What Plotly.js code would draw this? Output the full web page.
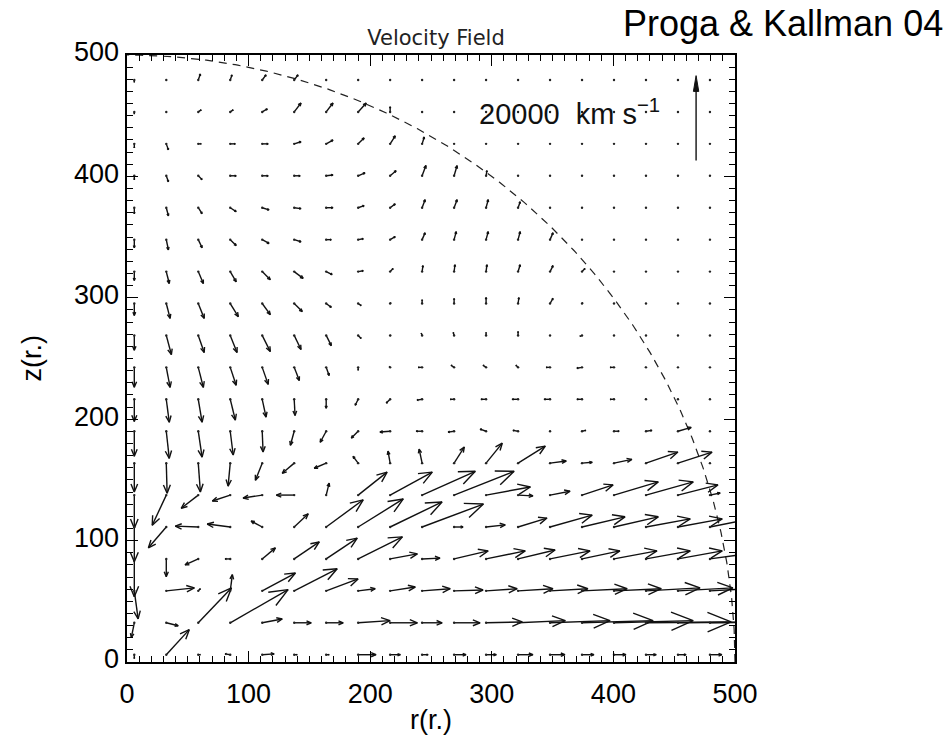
<!DOCTYPE html>
<html><head><meta charset="utf-8">
<script src="https://cdn.plot.ly/plotly-3.0.1.min.js"></script>
<style>html,body{margin:0;padding:0;background:#fff}</style>
</head><body>
<div id="chart" style="width:949px;height:748px"></div>
<script>
// grid positions (r, z) in units of r*
const rGrid = [6.0, 32.3, 58.6, 84.9, 111.2, 137.5, 163.8, 190.1, 216.4, 242.7, 269.0, 295.3, 321.6, 347.9, 374.2, 400.5, 426.8, 453.1, 479.4];
const zGrid = [6.0, 32.3, 58.6, 84.9, 111.2, 137.5, 163.8, 190.1, 216.4, 242.7, 269.0, 295.3, 321.6, 347.9, 374.2, 400.5, 426.8, 453.1, 479.4];

// velocity components, 10^3 km/s; row index = z grid index (bottom to top), column = r grid index
const vr = [
 [0,5.4,0.5,-1.2,2.8,0.7,0.7,4.2,2.4,1.4,2.8,2.4,3.5,3.5,2.8,2.8,2.4,1.9,2.8],
 [-0.7,2.8,7.8,13.6,4.7,4.0,4.0,7.5,6.4,4.7,6.1,8.5,11.1,14.1,16.7,18.6,20.0,20.7,20.7],
 [0.9,6.6,0.5,0.5,7.8,10.1,7.5,4.0,5.9,6.6,6.8,7.3,8.2,8.9,10.6,11.1,12.7,12.9,12.9],
 [0,0,-3.1,-1.2,3.1,5.9,7.3,10.4,6.4,4.2,8.0,9.2,8.7,9.4,8.9,10.1,10.4,10.4,10.4],
 [0,-4.2,-5.4,-5.4,-2.6,3.3,8.7,10.6,12.2,14.4,2.1,4.5,6.8,9.9,10.1,10.4,10.4,10.4,9.4],
 [0,-3.3,-4.0,-4.2,-4.5,-4.2,0.7,6.8,9.9,12.5,14.1,10.4,3.5,4.7,7.3,10.4,11.1,9.4,2.4],
 [0,0.2,0.5,-0.5,-1.6,-2.8,-2.8,-1.2,-0.5,-0.7,2.4,3.8,6.4,3.8,2.4,4.2,7.5,8.0,0],
 [0,0.7,0.9,0.7,0.2,-0.9,-1.4,-1.6,-2.4,-1.4,-1.4,-1.4,-1.2,0,0.9,1.2,1.4,3.1,0],
 [0,0.7,0.9,1.2,0.9,0.2,0,-0.7,-0.9,-1.2,-0.9,-1.2,-1.4,-1.4,-1.2,-0.9,-0.2,0,0],
 [0,0.9,1.2,1.4,1.4,1.2,0.7,0,-0.2,-0.9,-0.7,-0.7,-0.5,-0.9,-1.2,-0.9,-0.2,0,0],
 [0,1.2,1.4,1.6,1.9,1.6,1.2,0.7,0.2,-0.2,-0.2,0,0,0,-0.5,0,0,0,0],
 [0,0.9,1.4,1.9,1.9,1.9,1.2,0.7,0.2,0,0,0,0.2,0.7,0.2,0,0,0,0],
 [0,0.7,1.2,1.4,1.9,2.1,1.4,1.2,0.7,0.2,0.2,0.2,0.5,0.7,0.7,0,0,0,0],
 [0,0.5,0.9,1.4,1.6,1.6,1.2,1.2,1.2,0.7,0.5,0.5,0.5,0.7,0,0,0,0,0],
 [0,0.5,0.9,1.4,1.6,1.6,1.6,1.4,1.2,0.7,0.7,0.5,0.5,0,0,0,0,0,0],
 [0,0.5,0.9,1.4,1.4,1.4,1.6,1.6,1.4,0.9,0.7,0.2,0,0,0,0,0,0,0],
 [0,0.5,0.7,1.2,1.4,1.6,1.6,1.4,1.2,0.5,0,0,0,0,0,0,0,0,0],
 [0,0,0.7,0.7,1.2,1.6,1.6,1.9,0,0,0,0,0,0,0,0,0,0,0],
 [0,0,0.5,0.4,0.9,0.9,0,0,0,0,0,0,0,0,0,0,0,0,0]
];
const vz = [
 [-0.9,5.9,0,0.2,0.2,0,0,0,0,0,0,0,0,0,0,0,0,0,0],
 [-3.5,-0.7,8.2,7.8,0.9,0,0,0.5,0,0,0,0.2,0.5,0.5,0.5,0.5,0.2,0.2,0.2],
 [-6.6,0.7,0.5,3.8,4.2,5.2,2.8,0.5,0.9,0.5,0.2,0.5,0.5,0.5,0.5,0.5,0.7,0.7,0.7],
 [-8.9,-4.2,-1.4,0,2.6,4.0,4.9,5.2,1.2,0.2,1.9,1.9,2.1,1.9,1.9,1.9,1.9,1.9,1.4],
 [-8.2,-4.9,0.2,0.7,1.4,3.1,6.4,6.6,5.9,5.4,0,0.5,2.1,2.8,2.4,2.4,1.9,1.9,1.9],
 [-7.8,-7.1,-3.1,-1.4,-0.7,0,2.8,5.4,5.4,5.6,5.6,1.9,-0.2,0.9,2.4,3.1,3.1,2.4,0.5],
 [-6.8,-7.1,-6.8,-5.4,-4.0,-2.4,-1.2,1.6,2.8,3.3,3.8,4.7,4.0,0.5,0.2,0.9,2.6,2.6,0],
 [-5.9,-6.4,-6.1,-5.6,-4.9,-3.3,-2.6,-1.6,-0.2,0,-0.2,0.5,0.2,0,0.2,0,0.2,0.9,0],
 [-5.2,-5.4,-5.4,-4.9,-4.2,-3.8,-2.1,-1.4,-0.9,-0.2,0,0,0,0,0,0,0,0,0],
 [-4.7,-4.7,-4.7,-4.2,-4.0,-3.1,-1.9,-0.7,0.2,0,0.5,0.5,0.5,0,-0.2,0,0,0,0],
 [-3.5,-4.5,-4.0,-4.0,-3.8,-3.3,-2.4,-0.7,0,0.5,0.7,0.7,0.9,0,-0.2,0,0,0,0],
 [-2.8,-3.5,-3.5,-3.1,-2.6,-1.9,-0.9,-0.5,0.2,0.9,1.2,1.4,1.4,1.2,0.2,0,0,0,0],
 [-2.1,-2.8,-2.8,-2.4,-1.9,-1.6,-0.7,0.2,0.7,1.4,1.6,1.6,1.6,1.4,0.7,0,0,0,0],
 [-1.9,-2.4,-1.9,-1.4,-0.9,-0.5,0,0.2,0.7,1.6,1.9,1.9,1.9,1.6,0,0,0,0,0],
 [-1.4,-1.9,-1.4,-0.9,-0.5,-0.2,0,0.5,0.9,1.9,1.9,1.9,1.4,0,0,0,0,0,0],
 [-0.9,-1.4,-0.9,0,0,0,0.2,0.7,1.2,2.4,2.4,1.2,0,0,0,0,0,0,0],
 [-0.9,-1.4,0,0,0,0.5,0.9,1.4,1.9,1.6,0,0,0,0,0,0,0,0,0],
 [-0.5,0,0.5,0.5,0.7,2.1,2.1,2.1,1.2,0,0,0,0,0,0,0,0,0,0],
 [-0.5,0,1.4,1.2,1.2,1.2,0,0,0,0,0,0,0,0,0,0,0,0,0]
];

const refSpeed = 20;          // 10^3 km/s  (20000 km/s reference arrow)
const refPos = [468, 413];    // tail of reference arrow (r, z)
const refLabel = '20000  km s<sup>\u22121</sup>';
const domainRadius = 500;
const xTicks = [0, 100, 200, 300, 400, 500];
const yTicks = [0, 100, 200, 300, 400, 500];

// ---------- build marks ----------
const S = 3.5; // data units per 10^3 km/s
const HEAD = 0.3, ANG = 22.5 * Math.PI / 180;
const ct = HEAD * Math.cos(ANG), st = HEAD * Math.sin(ANG);
const ax = [], ay = [], dotX = [], dotY = [];
for (let j = 0; j < zGrid.length; j++) {
  for (let i = 0; i < rGrid.length; i++) {
    const x0 = rGrid[i], y0 = zGrid[j];
    dotX.push(x0); dotY.push(y0);
    const dx = vr[j][i] * S, dy = vz[j][i] * S;
    if (dx === 0 && dy === 0) continue;
    const x1 = x0 + dx, y1 = y0 + dy;
    ax.push(x0, x1, null, x1 - (ct * dx - st * dy), x1, x1 - (ct * dx + st * dy), null);
    ay.push(y0, y1, null, y1 - (ct * dy + st * dx), y1, y1 - (ct * dy - st * dx), null);
  }
}
const cx = [], cy = [];
for (let k = 0; k <= 360; k++) {
  const t = (Math.PI / 2) * k / 360;
  cx.push(domainRadius * Math.cos(t)); cy.push(domainRadius * Math.sin(t));
}
const refTip = refPos[1] + refSpeed * S;

const traces = [
  {x: cx, y: cy, mode: 'lines', line: {color: '#222', width: 1.2, dash: '8px,6px'}, hoverinfo: 'skip'},
  {x: ax, y: ay, mode: 'lines', line: {color: '#111', width: 1.4}, connectgaps: false, hoverinfo: 'skip'},
  {x: dotX, y: dotY, mode: 'markers', marker: {color: '#222', size: 2.4}, hoverinfo: 'skip', cliponaxis: true},
  {x: [refPos[0], refPos[0]], y: [refPos[1], refTip - 6], mode: 'lines', line: {color: '#111', width: 1.4}, hoverinfo: 'skip'},
  {x: [refPos[0] - 2.2, refPos[0], refPos[0] + 2.2, refPos[0] - 2.2], y: [refTip - 13, refTip, refTip - 13, refTip - 13],
   mode: 'lines', fill: 'toself', fillcolor: '#111', line: {color: '#111', width: 1}, hoverinfo: 'skip'}
];

const axisCommon = {
  range: [0, 500], showgrid: false, zeroline: false, showline: true, linecolor: '#000', linewidth: 1.6,
  mirror: 'ticks', ticks: 'inside', ticklen: 11, tickwidth: 1.3, tickcolor: '#000',
  minor: {dtick: 10, ticks: 'inside', ticklen: 6, tickwidth: 1, tickcolor: '#000'},
  tickfont: {family: 'Liberation Sans, Arial, sans-serif', size: 27, color: '#000'},
  fixedrange: true
};

const layout = {
  width: 949, height: 748,
  margin: {l: 127, r: 214, t: 55, b: 86},
  paper_bgcolor: '#fff', plot_bgcolor: '#fff',
  showlegend: false,
  title: {text: 'Velocity Field', x: 436 / 949, xanchor: 'center', y: 1 - 38 / 748, yanchor: 'middle',
          font: {family: 'DejaVu Sans, sans-serif', size: 21, color: '#222'}},
  xaxis: Object.assign({}, axisCommon, {tickvals: xTicks, ticktext: xTicks.map(String), ticklabelstandoff: 7}),
  yaxis: Object.assign({}, axisCommon, {tickvals: yTicks, ticktext: yTicks.map(String), ticklabelstandoff: 1, ticklabelshift: -3}),
  annotations: [
    {text: refLabel, xref: 'x', yref: 'y', x: 440, y: 453, xanchor: 'right', yanchor: 'middle', showarrow: false,
     font: {family: 'Liberation Sans, Arial, sans-serif', size: 29, color: '#111'}},
    {text: 'Proga & Kallman 04', xref: 'paper', yref: 'paper', x: (783 - 127) / 608, y: (662 - 24) / 607,
     xanchor: 'center', yanchor: 'middle', showarrow: false,
     font: {family: 'Liberation Sans, Arial, sans-serif', size: 36, color: '#000'}},
    {text: 'r(r.)', xref: 'paper', yref: 'paper', x: 0.5, y: (662 - 720) / 607, xanchor: 'center', yanchor: 'middle',
     showarrow: false, font: {family: 'Liberation Sans, Arial, sans-serif', size: 27, color: '#000'}},
    {text: 'z(r.)', xref: 'paper', yref: 'paper', x: (31 - 127) / 608, y: 0.5, xanchor: 'center', yanchor: 'middle',
     textangle: -90, showarrow: false, font: {family: 'Liberation Sans, Arial, sans-serif', size: 27, color: '#000'}}
  ]
};

Plotly.newPlot('chart', traces, layout, {displayModeBar: false, staticPlot: true});
</script>
</body></html>
